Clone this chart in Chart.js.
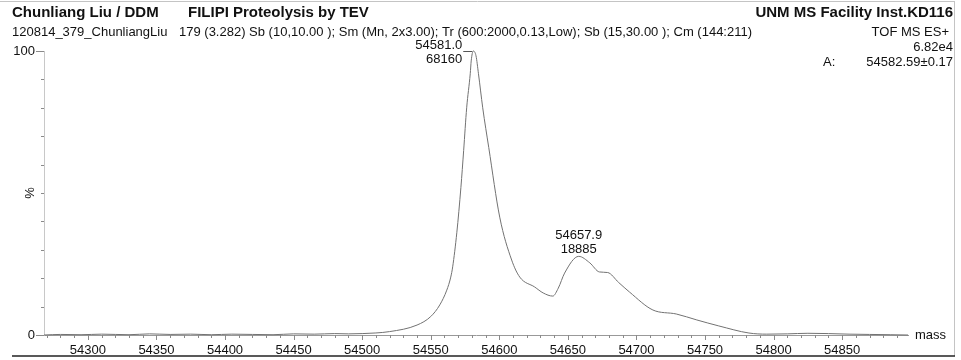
<!DOCTYPE html>
<html>
<head>
<meta charset="utf-8">
<script src="https://cdn.jsdelivr.net/npm/chart.js@4/dist/chart.umd.min.js"></script>
<style>
  body { margin: 0; background: #fff; }
  #wrap { width: 961px; height: 360px; position: relative; }
</style>
</head>
<body>
<div id="wrap"><canvas id="chart"></canvas></div>
<script>
// deconvoluted spectrum, mass (Da) vs relative intensity (%)
const massValues = [
  54268, 54280, 54295, 54310, 54330, 54345, 54360, 54375, 54390, 54405,
  54420, 54435, 54450, 54465, 54480, 54490, 54500, 54520, 54540, 54550,
  54556.6, 54561.7, 54564.6, 54566, 54569, 54572, 54574, 54576.2, 54578.8, 54579.5,
  54581.0, 54583, 54584.8, 54587.9, 54592.3, 54600.3, 54609, 54614.9, 54625.8, 54632,
  54639, 54643, 54647.6, 54657.9, 54666, 54673, 54679, 54687, 54695, 54712,
  54729, 54744, 54760, 54782, 54795, 54810, 54825, 54840, 54855, 54870,
  54885, 54898
];
const relIntensity = [
  0, 0.2, 0.1, 0.3, 0.1, 0.4, 0.2, 0.3, 0.1, 0.3,
  0.2, 0.1, 0.4, 0.3, 0.5, 0.4, 0.5, 1.2, 3.5, 6.5,
  10.6, 15.8, 20.4, 24, 36, 52, 65, 80, 92, 96.5,
  100, 98.3, 92, 80, 66, 41.5, 26.4, 20.4, 16.9, 14.8,
  13.7, 16.5, 21.8, 27.7, 25.4, 22.2, 22, 18.5, 15.1, 8.8,
  7.4, 5.3, 3.2, 0.7, 0.3, 0.4, 0.6, 0.5, 0.3, 0.2,
  0.1, 0
];
// labelled peaks: centroid mass and raw counts
const peakMass = [54581.0, 54657.9];
const peakCounts = [68160, 18885];

const massTicks = [54300, 54350, 54400, 54450, 54500, 54550, 54600, 54650, 54700, 54750, 54800, 54850];
const pctTicks = [0, 100];

const headLeft = "Chunliang Liu / DDM";
const headTitle = "FILIPI Proteolysis by TEV";
const headRight = "UNM MS Facility Inst.KD116";
const sampleName = "120814_379_ChunliangLiu";
const processing = "179 (3.282) Sb (10,10.00 ); Sm (Mn, 2x3.00); Tr (600:2000,0.13,Low); Sb (15,30.00 ); Cm (144:211)";
const scanMode = "TOF MS ES+";
const fullScale = "6.82e4";
const avgMass = "54582.59\u00b10.17";

const FONT = "'Liberation Sans', Arial, sans-serif";

const points = massValues.map((m, i) => ({ x: m, y: relIntensity[i] }));

const decorations = {
  id: 'decorations',
  afterDraw(chart) {
    const ctx = chart.ctx;
    const xs = chart.scales.x, ys = chart.scales.y;
    const area = chart.chartArea;
    ctx.save();

    // frame lines
    ctx.strokeStyle = '#c4c4c4';
    ctx.lineWidth = 1;
    ctx.beginPath();
    ctx.moveTo(0, 1.5); ctx.lineTo(955, 1.5);
    ctx.moveTo(954.5, 1); ctx.lineTo(954.5, 356);
    ctx.stroke();
    ctx.strokeStyle = '#222';
    ctx.lineWidth = 1.5;
    ctx.beginPath();
    ctx.moveTo(12, 356); ctx.lineTo(955, 356);
    ctx.stroke();

    // axis tick marks
    ctx.lineWidth = 1;
    ctx.strokeStyle = '#8a8a8a';
    ctx.beginPath();
    for (let m = 54270; m <= 54890; m += 10) {
      const px = Math.round(xs.getPixelForValue(m)) + 0.5;
      const len = m % 50 === 0 ? 5 : 3;
      ctx.moveTo(px, area.bottom); ctx.lineTo(px, area.bottom + len);
    }
    for (let p = 0; p <= 100; p += 10) {
      const py = Math.round(ys.getPixelForValue(p)) + 0.5;
      const len = (p === 0 || p === 100) ? 8 : 3;
      ctx.moveTo(area.left, py); ctx.lineTo(area.left - len, py);
    }
    ctx.stroke();

    // header
    ctx.fillStyle = '#111';
    ctx.textBaseline = 'middle';
    ctx.font = 'bold 15px ' + FONT;
    ctx.textAlign = 'left';
    ctx.fillText(headLeft, 12, 13);
    ctx.fillText(headTitle, 188, 13);
    ctx.textAlign = 'right';
    ctx.fillText(headRight, 953, 13);
    ctx.font = '13px ' + FONT;
    ctx.textAlign = 'left';
    ctx.fillText(sampleName, 12, 32);
    ctx.fillText(processing, 179, 32);
    ctx.fillText('A:', 823, 62);
    ctx.textAlign = 'right';
    ctx.fillText(scanMode, 949, 32);
    ctx.fillText(fullScale, 953, 47);
    ctx.fillText(avgMass, 953, 62);

    // axis names
    ctx.textAlign = 'left';
    ctx.fillText('mass', 915, area.bottom);
    ctx.save();
    ctx.translate(30, (area.top + area.bottom) / 2);
    ctx.rotate(-Math.PI / 2);
    ctx.textAlign = 'center';
    ctx.fillText('%', 0, 0);
    ctx.restore();

    // peak annotations
    peakMass.forEach((m, i) => {
      const px = xs.getPixelForValue(m);
      const py = ys.getPixelForValue(peakCounts[i] / peakCounts[0] * 100);
      const label1 = m.toFixed(1), label2 = String(peakCounts[i]);
      if (py - 32 < area.top) {
        // no room above: put the label to the left with a short leader
        ctx.textAlign = 'right';
        ctx.fillText(label1, px - 11, py - 6);
        ctx.fillText(label2, px - 11, py + 8);
        ctx.strokeStyle = '#555';
        ctx.beginPath();
        ctx.moveTo(px - 10, Math.round(py) + 0.5);
        ctx.lineTo(px - 1, Math.round(py) + 0.5);
        ctx.stroke();
      } else {
        ctx.textAlign = 'center';
        ctx.fillText(label1, px, py - 21);
        ctx.fillText(label2, px, py - 7);
      }
    });
    ctx.restore();
  }
};

new Chart(document.getElementById('chart'), {
  type: 'line',
  data: {
    datasets: [{
      data: points,
      borderColor: '#727272',
      borderWidth: 1,
      pointRadius: 0,
      cubicInterpolationMode: 'monotone',
      clip: false
    }]
  },
  options: {
    responsive: true,
    maintainAspectRatio: false,
    animation: false,
    layout: { padding: { top: 51, right: 53, left: 0, bottom: 0 } },
    plugins: { legend: { display: false }, tooltip: { enabled: false } },
    scales: {
      x: {
        type: 'linear',
        min: 54268,
        max: 54898,
        afterBuildTicks: s => { s.ticks = massTicks.map(v => ({ value: v })); },
        afterFit: s => { s.height = 25; },
        grid: { display: false, drawTicks: false },
        border: { color: '#999' },
        ticks: {
          autoSkip: false, maxRotation: 0, padding: 8,
          color: '#111', font: { family: FONT, size: 13 },
          callback: v => String(v)
        }
      },
      y: {
        min: 0,
        max: 100,
        afterBuildTicks: s => { s.ticks = pctTicks.map(v => ({ value: v })); },
        afterFit: s => { s.width = 44; },
        grid: { display: false, drawTicks: false },
        border: { color: '#c8c8c8' },
        ticks: {
          padding: 9,
          color: '#111', font: { family: FONT, size: 13 },
          callback: v => String(v)
        }
      }
    }
  },
  plugins: [decorations]
});
</script>
</body>
</html>
